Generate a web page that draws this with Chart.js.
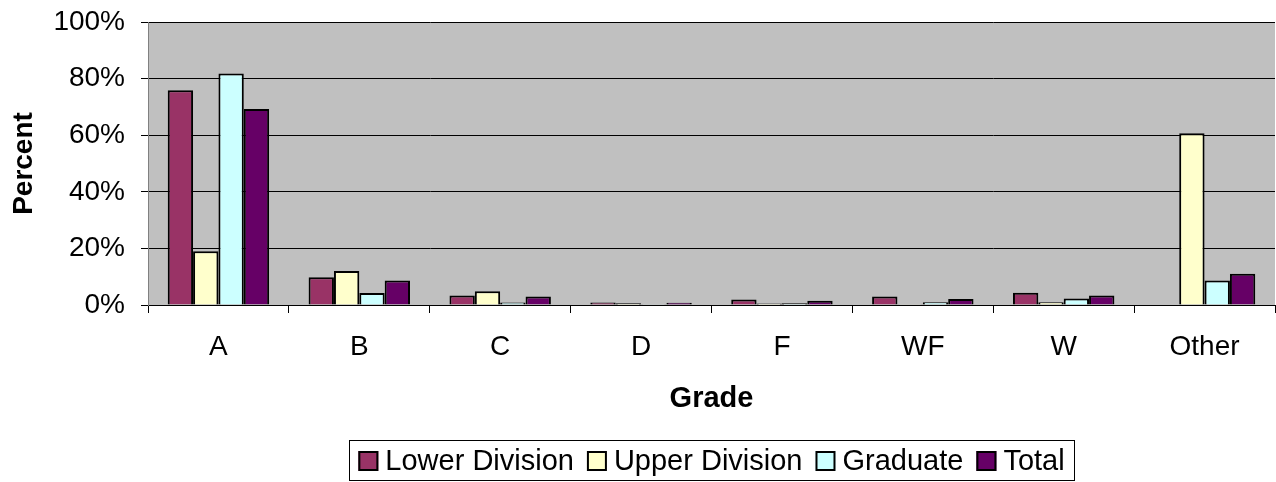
<!DOCTYPE html>
<html>
<head>
    <title>Grade Distribution</title>
    <style>
        html, body { margin: 0; padding: 0; background: #ffffff; }
        #wrap { width: 1276px; height: 482px; }
    </style>
    <script src="https://cdn.jsdelivr.net/npm/chart.js"></script>
</head>
<body>
    <div id="wrap"><canvas id="chartGrades"></canvas></div>

    <script>
        // data (percent)
        var grades = ['A', 'B', 'C', 'D', 'F', 'WF', 'W', 'Other'];
        var lowerDivision = [75.9, 9.8, 3.4, 0.9, 1.9, 3.0, 4.3, 0.2];
        var upperDivision = [19.0, 12.0, 4.9, 0.6, 0.5, 0.3, 1.0, 60.7];
        var graduate = [81.8, 4.2, 0.9, 0.3, 0.6, 1.0, 2.3, 8.7];
        var total = [69.3, 8.7, 3.0, 0.8, 1.5, 2.1, 3.4, 11.0];
        var yTicks = [0, 20, 40, 60, 80, 100];

        var fontFamily = "'Liberation Sans', Arial, sans-serif";

        // grey plot area
        var plotBackground = {
            id: 'plotBackground',
            beforeDraw: function(chart) {
                var a = chart.chartArea;
                var ctx = chart.ctx;
                ctx.save();
                ctx.fillStyle = '#C0C0C0';
                ctx.fillRect(a.left, a.top, a.right - a.left, a.bottom - a.top);
                ctx.restore();
            }
        };

        // excel style legend: boxed, centred under the plot area
        var boxedLegend = {
            id: 'boxedLegend',
            afterDraw: function(chart) {
                var ctx = chart.ctx;
                var a = chart.chartArea;
                var sets = chart.data.datasets;
                var box = 20, gap = 7, spacing = 13;
                ctx.save();
                ctx.font = '29px ' + fontFamily;
                var widths = sets.map(function(ds) { return ctx.measureText(ds.label).width; });
                var totalW = 0;
                widths.forEach(function(w) { totalW += box + gap + w; });
                totalW += spacing * (sets.length - 1);
                var x = (a.left + a.right) / 2 - totalW / 2;
                var top = 440, bottom = 481, cy = 461;

                ctx.strokeStyle = '#000000';
                ctx.lineWidth = 1;
                ctx.strokeRect(Math.round(x - 9) + 0.5, top + 0.5, Math.round(totalW + 19), bottom - top - 1);

                ctx.textBaseline = 'middle';
                ctx.textAlign = 'left';
                sets.forEach(function(ds, i) {
                    ctx.fillStyle = ds.backgroundColor;
                    ctx.fillRect(x, cy - box / 2, box, box);
                    ctx.lineWidth = 2;
                    ctx.strokeStyle = '#000000';
                    ctx.strokeRect(x + 1, cy - box / 2 + 1, box - 2, box - 2);
                    ctx.fillStyle = '#000000';
                    ctx.fillText(ds.label, x + box + gap, cy + 1);
                    x += box + gap + widths[i] + spacing;
                });
                ctx.restore();
            }
        };

        var ctx = document.getElementById('chartGrades').getContext('2d');
        var chart = new Chart(ctx, {
            type: 'bar',
            data: {
                labels: grades,
                datasets: [
                    { label: 'Lower Division', data: lowerDivision, backgroundColor: '#993366' },
                    { label: 'Upper Division', data: upperDivision, backgroundColor: '#FFFFCC' },
                    { label: 'Graduate', data: graduate, backgroundColor: '#CCFFFF' },
                    { label: 'Total', data: total, backgroundColor: '#660066' }
                ]
            },
            options: {
                responsive: true,
                maintainAspectRatio: false,
                animation: false,
                datasets: {
                    bar: {
                        borderColor: '#000000',
                        borderWidth: 2,
                        categoryPercentage: 0.72,
                        barPercentage: 1.0
                    }
                },
                layout: { padding: { top: 22, right: 1, bottom: 42, left: 0 } },
                plugins: {
                    tooltip: { enabled: false },
                    legend: { display: false }
                },
                scales: {
                    x: {
                        offset: true,
                        grid: {
                            offset: true,
                            drawOnChartArea: false,
                            drawTicks: true,
                            tickLength: 8,
                            color: '#000000'
                        },
                        border: { color: '#000000', width: 1 },
                        ticks: {
                            color: '#000000',
                            font: { family: fontFamily, size: 28 },
                            padding: 17,
                            maxRotation: 0
                        },
                        title: {
                            display: true,
                            text: 'Grade',
                            color: '#000000',
                            font: { family: fontFamily, size: 29, weight: 'bold' },
                            padding: { top: 0, bottom: 24 }
                        },
                        afterFit: function(scale) {
                            scale.height = 135;
                            scale.paddingLeft = 0;
                            scale.paddingRight = 0;
                        }
                    },
                    y: {
                        min: 0,
                        max: 100,
                        afterBuildTicks: function(scale) {
                            scale.ticks = yTicks.map(function(v) { return { value: v }; });
                        },
                        grid: {
                            color: '#000000',
                            lineWidth: 1,
                            drawTicks: true,
                            tickLength: 7
                        },
                        border: { color: '#808080', width: 1 },
                        ticks: {
                            color: '#000000',
                            font: { family: fontFamily, size: 28 },
                            padding: 16,
                            callback: function(v) { return v + '%'; }
                        },
                        title: {
                            display: true,
                            text: 'Percent',
                            color: '#000000',
                            font: { family: fontFamily, size: 28, weight: 'bold' },
                            padding: { top: 7, bottom: 0 }
                        },
                        afterFit: function(scale) {
                            scale.width = 148;
                            scale.paddingTop = 0;
                            scale.paddingBottom = 0;
                        }
                    }
                }
            },
            plugins: [plotBackground, boxedLegend]
        });
    </script>
</body>
</html>
